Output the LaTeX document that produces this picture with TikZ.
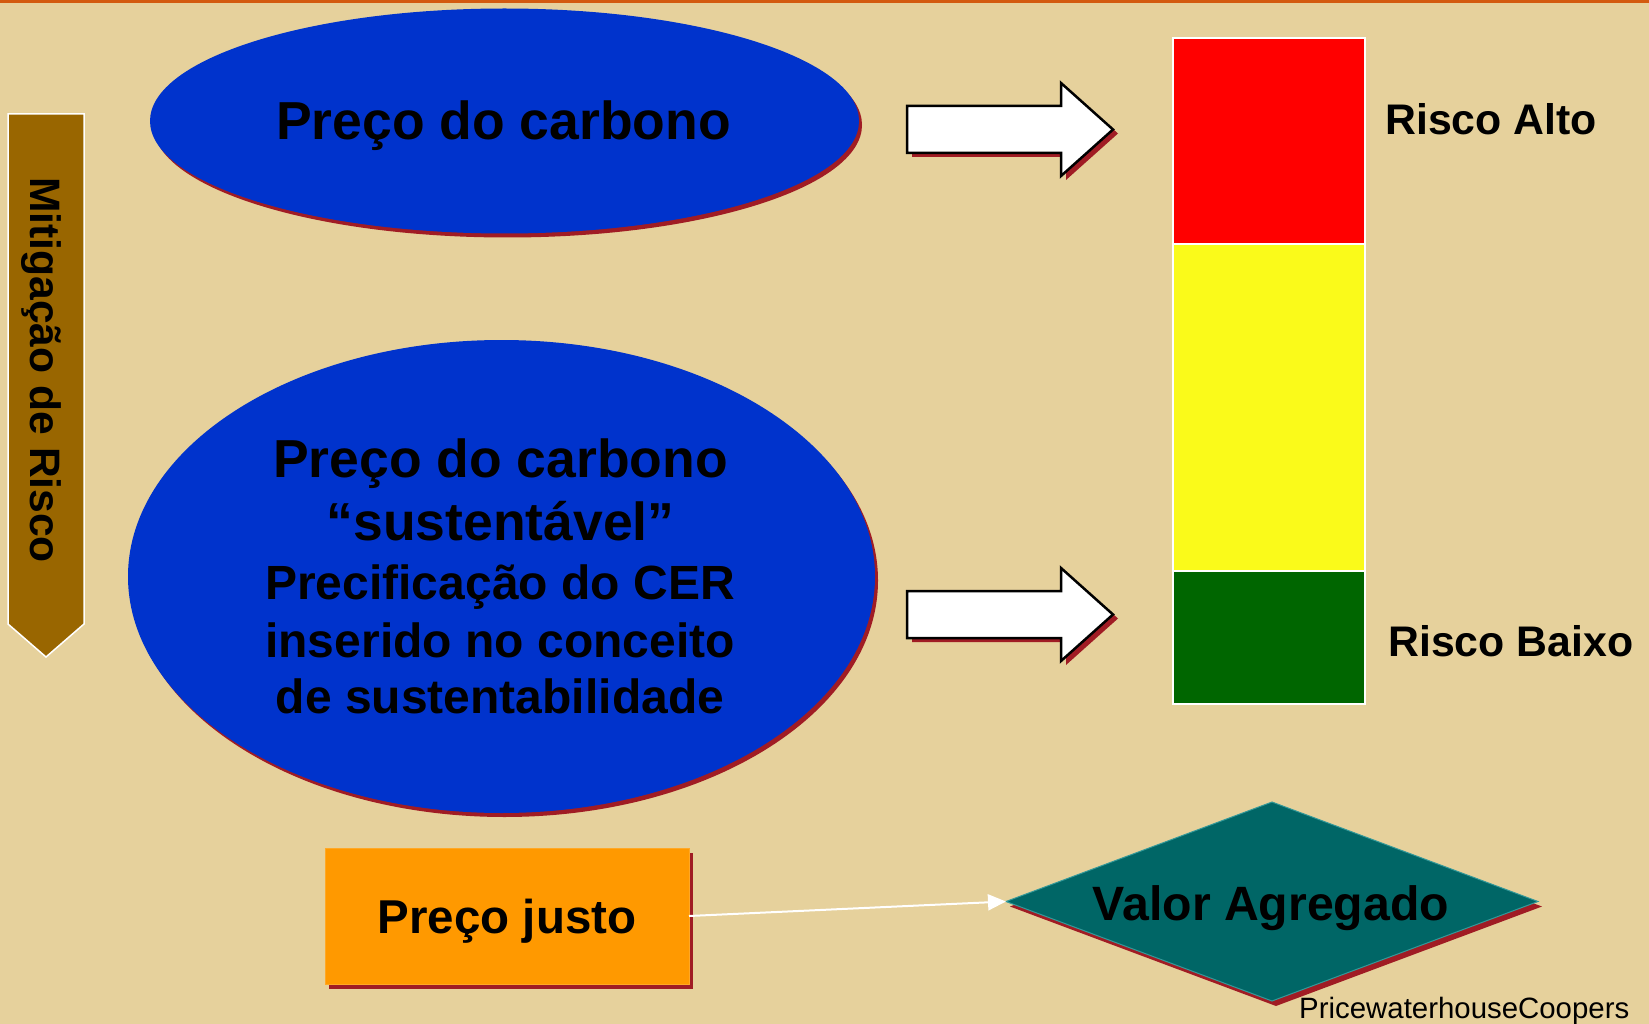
\documentclass[tikz,border=0pt]{standalone}
\usepackage{fontspec}
\setmainfont{Liberation Sans}
\usetikzlibrary{shapes.geometric,arrows.meta,shadows}
\definecolor{bg}{HTML}{E6D19C}
\definecolor{topline}{HTML}{D35A0F}
\definecolor{ellblue}{HTML}{0033CC}
\definecolor{shred}{HTML}{A01C24}
\definecolor{mitbrown}{HTML}{996600}
\definecolor{riskred}{HTML}{FF0000}
\definecolor{riskyellow}{HTML}{FAFA1A}
\definecolor{riskgreen}{HTML}{006600}
\definecolor{boxorange}{HTML}{FF9900}
\definecolor{diamteal}{HTML}{006666}
\newcommand{\fsz}[1]{\fontsize{#1}{#1}\selectfont}
\begin{document}
\begin{tikzpicture}[x=1pt,y=-1pt,
  redshadow/.style={drop shadow={shadow xshift=3pt,shadow yshift=-4pt,fill=shred,opacity=1}},
  ellblob/.style={ellipse,fill=ellblue,inner sep=0pt,outer sep=0pt,redshadow},
  bigtxt/.style={font=\bfseries\fsz{53.5},anchor=base,inner sep=0pt},
  midtxt/.style={font=\bfseries\fsz{48},anchor=base,inner sep=0pt},
  risktxt/.style={font=\bfseries\fsz{42.8},anchor=base west,inner sep=0pt},
  blockarrow/.style={fill=white,draw=black,line width=2.5pt,line join=miter},
  arrowshadow/.style={fill=shred},
  riskcell/.style={draw=white,line width=1.5pt,inner sep=0pt,outer sep=0pt,minimum width=192pt},
]
\useasboundingbox (0,0) rectangle (1649,1024);
\fill[bg] (0,0) rectangle (1649,1024);
\fill[topline] (0,0) rectangle (1649,3);

% Mitigation bar
\draw[fill=mitbrown,draw=white,line width=1.5pt,line join=miter]
  (8,114) -- (84,114) -- (84,624) -- (46,657) -- (8,624) -- cycle;
\node[rotate=-90,anchor=base west,font=\bfseries\fsz{42.6},inner sep=0pt] (mit) at (30.5,177)
  {Mitigação de Risco};

% Ellipses
\node[ellblob,minimum width=709pt,minimum height=225pt] (e1) at (504.5,121) {};
\node[bigtxt] (e1t) at (503.5,140) {Preço do carbono};

\node[ellblob,minimum width=747pt,minimum height=473pt] (e2) at (501.5,576.5) {};
\node[bigtxt] (e2a) at (500.5,477) {Preço do carbono};
\node[bigtxt] (e2b) at (500.5,540) {“sustentável”};
\node[midtxt] (e2c) at (500,599) {Precificação do CER};
\node[midtxt] (e2d) at (500,657) {inserido no conceito};
\node[midtxt] (e2e) at (500,713.5) {de sustentabilidade};

% Block arrows
\foreach \dy/\nm in {0/ba1,485/ba2}{
  \begin{scope}[yshift=-\dy pt]
    \fill[arrowshadow,shift={(5,4)}] (907,106) -- (1061,106) -- (1061,83) -- (1113,129.5)
      -- (1061,176) -- (1061,153) -- (907,153) -- cycle;
    \draw[blockarrow] (907,106) -- (1061,106) -- (1061,83) -- (1113,129.5)
      -- (1061,176) -- (1061,153) -- (907,153) -- cycle;
    \coordinate (\nm) at (1113,129.5);
  \end{scope}
}

% Risk scale
\node[riskcell,fill=riskred,minimum height=206pt] (rred) at (1269,141) {};
\node[riskcell,fill=riskyellow,minimum height=327pt] (ryel) at (1269,407.5) {};
\node[riskcell,fill=riskgreen,minimum height=133pt] (rgrn) at (1269,637.5) {};
\node[risktxt] (ralto) at (1385,135) {Risco Alto};
\node[risktxt] (rbaixo) at (1388,656) {Risco Baixo};

% Preço justo box
\node[fill=boxorange,draw=boxorange!85!white,line width=1pt,minimum width=364pt,minimum height=136pt,
  inner sep=0pt,outer sep=0pt,text depth=0pt,
  drop shadow={shadow xshift=4pt,shadow yshift=-5pt,fill=shred,opacity=1},
  font=\bfseries\fsz{47.5}] (pj) at (507,916) {Preço justo};

% Valor Agregado diamond
\node[diamond,fill=diamteal,draw=teal!80!white,line width=1pt,minimum width=532pt,minimum height=199pt,
  inner sep=0pt,outer sep=0pt,
  drop shadow={shadow xshift=4pt,shadow yshift=-5pt,fill=shred,opacity=1}] (va) at (1272,901.5) {};
\node[font=\bfseries\fsz{48.2},anchor=base,inner sep=0pt] (vat) at (1271,920) {Valor Agregado};

% connector
\draw[white,line width=2pt,-{Triangle[length=18pt,width=16pt]}] (pj.east) -- (va.west);

% footer
\node[font=\fsz{29.4},anchor=base west,inner sep=0pt] (pwc) at (1299,1018) {PricewaterhouseCoopers};
\end{tikzpicture}
\end{document}
